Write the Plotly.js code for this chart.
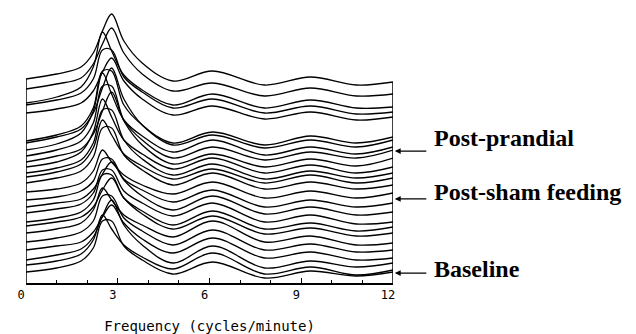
<!DOCTYPE html>
<html>
<head>
<meta charset="utf-8">
<script src="https://cdn.plot.ly/plotly-3.0.1.min.js"></script>
<style>html,body{margin:0;padding:0;background:#fff;}#chart{width:636px;height:334px;}</style>
</head>
<body>
<div id="chart"></div>
<script>
// Frequency sample points (cycles/minute)
const freq = [0, 1.0, 1.8, 2.2, 2.5, 2.8, 3.2, 3.8, 4.8, 6.1, 7.8, 9.3, 10.8, 12];

// Stacked power spectra (arbitrary units, offset), top to bottom
const c01 = [204, 209, 216, 230, 252, 269, 242, 220, 202, 212, 198, 206, 198, 201];
const c02 = [194, 199, 205, 219, 239, 255, 230, 209, 192, 200, 187, 195, 187, 189];
const c03 = [180, 186, 196, 216, 251, 232, 208, 193, 178, 189, 175, 183, 175, 176];
const c04 = [178, 183, 190, 204, 233, 233, 206, 191, 175, 184, 170, 177, 169, 171];
const c05 = [170, 174, 180, 192, 211, 225, 202, 184, 168, 177, 164, 171, 163, 166];
const c06 = [142, 148, 157, 175, 212, 212, 178, 158, 140, 151, 138, 147, 140, 146];
const c07 = [140, 146, 154, 170, 195, 215, 184, 158, 138, 148, 135, 143, 136, 143];
const c08 = [133, 139, 150, 172, 210, 189, 163, 147, 131, 143, 128, 136, 129, 136];
const c09 = [127, 133, 142, 160, 197, 197, 163, 143, 125, 136, 123, 131, 125, 133];
const c10 = [121, 127, 134, 149, 172, 191, 162, 138, 119, 129, 116, 124, 117, 125];
const c11 = [116, 121, 131, 151, 184, 166, 143, 129, 114, 125, 110, 118, 110, 116];
const c12 = [110, 115, 123, 140, 173, 173, 143, 124, 108, 119, 104, 112, 105, 110];
const c13 = [106, 111, 119, 135, 163, 148, 129, 117, 104, 114, 100, 108, 100, 105];
const c14 = [100, 105, 112, 126, 155, 155, 128, 113,  98, 110,  94, 101,  94,  98];
const c15 = [ 91,  94, 100, 112, 133, 121, 108,  98,  89, 101,  85,  92,  85,  90];
const c16 = [ 83,  86,  92, 102, 124, 124, 104,  93,  81,  93,  76,  83,  76,  80];
const c17 = [ 76,  80,  84,  94, 109, 121, 103,  87,  73,  87,  69,  76,  68,  71];
const c18 = [ 70,  74,  79,  90, 113, 113,  92,  80,  67,  80,  61,  68,  59,  61];
const c19 = [ 61,  65,  71,  83, 108, 108,  85,  72,  58,  72,  54,  60,  52,  56];
const c20 = [ 57,  61,  66,  76,  93, 105,  85,  69,  54,  67,  49,  55,  47,  50];
const c21 = [ 50,  54,  60,  73,  95,  83,  68,  58,  46,  62,  41,  47,  38,  40];
const c22 = [ 41,  45,  51,  62,  87,  87,  65,  52,  38,  53,  33,  39,  31,  33];
const c23 = [ 33,  37,  41,  51,  66,  78,  60,  44,  30,  45,  25,  31,  23,  25];
const c24 = [ 23,  28,  34,  46,  67,  83,  58,  38,  20,  37,  15,  22,  16,  20];
const c25 = [ 18,  22,  29,  43,  68,  54,  38,  26,  14,  30,   9,  16,   8,  13];
const c26 = [ 11,  15,  22,  35,  62,  62,  37,  23,   9,  21,   5,  12,   7,  11];

const curves = [c01,c02,c03,c04,c05,c06,c07,c08,c09,c10,c11,c12,c13,c14,c15,c16,c17,c18,c19,c20,c21,c22,c23,c24,c25,c26];

const tickVals = [0, 3, 6, 9, 12];
const tickText = ['0', '3', '6', '9', '12'];
const groupLabels = ['Post-prandial', 'Post-sham feeding', 'Baseline'];

const traces = curves.map(c => ({
  x: freq, y: c, type: 'scatter', mode: 'lines',
  line: {color: '#000', width: 1.3, shape: 'spline', smoothing: 1},
  hoverinfo: 'skip', showlegend: false
}));
// frame sides of the waterfall box
const x0 = freq[0], x1 = freq[freq.length - 1];
traces.push({x: [x0, x0], y: [0, c01[0]], mode: 'lines', line: {color: '#000', width: 1.5}, showlegend: false, hoverinfo: 'skip'});
traces.push({x: [x1, x1], y: [0, c01[c01.length - 1]], mode: 'lines', line: {color: '#000', width: 1.5}, showlegend: false, hoverinfo: 'skip'});

const labelFont = {family: 'Liberation Serif, Times New Roman, serif', size: 24, color: '#000', weight: 'bold'};
const annY = [0.512, 0.322, 0.049];
const arrowY = [0.466, 0.297, 0.035];
const annotations = [];
groupLabels.forEach((t, i) => {
  annotations.push({xref: 'paper', yref: 'paper', x: 1.106, y: annY[i], xanchor: 'left', yanchor: 'middle',
    text: '<b>' + t + '</b>', showarrow: false, font: labelFont});
  annotations.push({xref: 'paper', yref: 'paper', x: 1.005, y: arrowY[i], text: '', showarrow: true,
    ax: 33, ay: 0, arrowhead: 2, arrowsize: 0.9, arrowwidth: 1.3, arrowcolor: '#000', standoff: 0});
});

const layout = {
  width: 636, height: 334,
  margin: {l: 26, r: 243, t: 0, b: 51},
  paper_bgcolor: '#fff', plot_bgcolor: '#fff',
  showlegend: false,
  xaxis: {
    range: [0, 12], showgrid: false, zeroline: false,
    showline: true, linecolor: '#000', linewidth: 1.5,
    tickmode: 'array', tickvals: tickVals, ticktext: tickText,
    ticks: 'inside', ticklen: 5, tickwidth: 1, tickcolor: '#000',
    minor: {dtick: 1, ticks: 'inside', ticklen: 3, tickcolor: '#000'},
    ticklabelshift: -5,
    tickfont: {family: 'DejaVu Sans Mono, monospace', size: 12, color: '#000'},
    title: {text: 'Frequency (cycles/minute)', standoff: 20,
      font: {family: 'DejaVu Sans Mono, monospace', size: 14, color: '#000'}}
  },
  yaxis: {range: [0, 283], visible: false, fixedrange: true},
  annotations: annotations
};

Plotly.newPlot('chart', traces, layout, {staticPlot: true, displayModeBar: false});
</script>
</body>
</html>
